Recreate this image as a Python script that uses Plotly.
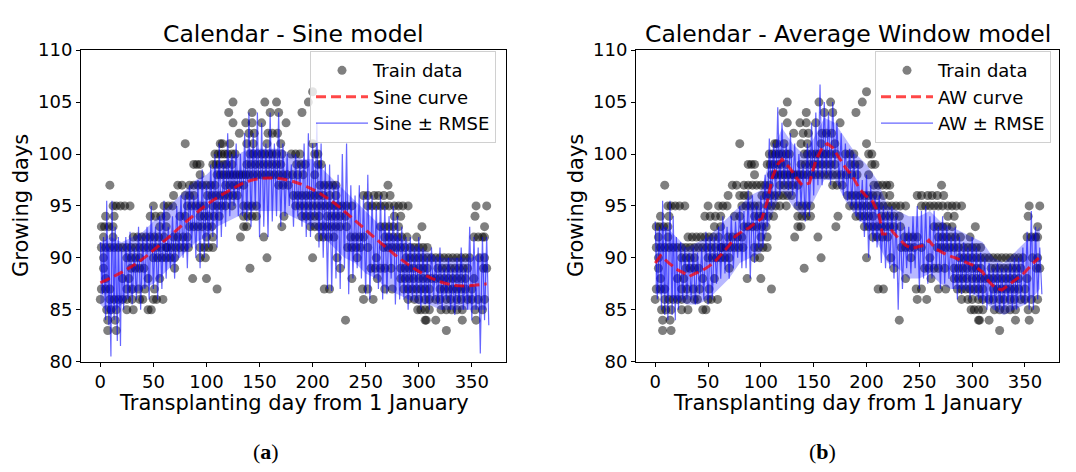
import plotly.graph_objects as go

# ---------------- data ----------------
# Train data: integer growing-day levels and the transplanting days observed at each level
level_values = [106, 105, 104, 103, 102, 101, 100, 99, 98, 97, 96, 95, 94, 93, 92, 91, 90, 89, 88, 87, 86, 85, 84, 83]
level_days = [
    [200],
    [125, 155, 166, 196],
    [121, 143, 160, 168, 190],
    [125, 137, 143, 152, 175],
    [131, 140, 145, 158, 162, 167],
    [80, 113, 115, 122, 138, 144, 157, 170, 200],
    [108, 111, 114, 117, 120, 124, 127, 141, 144, 148, 152, 155, 159, 162, 166, 171, 180, 184, 188, 202, 205],
    [88, 91, 94, 106, 109, 112, 116, 119, 124, 138, 142, 146, 150, 154, 158, 162, 166, 170, 185, 189, 193, 205, 208],
    [94, 110, 113, 116, 119, 122, 125, 128, 131, 134, 137, 140, 144, 148, 152, 156, 160, 164, 168, 172, 176, 181, 186, 191, 202],
    [9, 73, 77, 84, 88, 92, 96, 100, 104, 108, 118, 122, 126, 130, 135, 168, 172, 177, 207, 211, 215, 219, 222, 271],
    [69, 80, 84, 88, 101, 105, 109, 113, 117, 121, 125, 129, 182, 186, 190, 194, 198, 202, 206, 210, 216, 222, 248, 252, 258, 262, 267, 273],
    [12, 15, 19, 23, 28, 50, 60, 64, 68, 82, 86, 90, 94, 98, 106, 110, 114, 118, 124, 135, 139, 143, 147, 184, 188, 192, 196, 200, 204,
     208, 212, 216, 220, 224, 228, 232, 237, 252, 256, 260, 264, 268, 272, 277, 281, 285, 290, 354, 364],
    [5, 13, 47, 52, 57, 62, 75, 80, 94, 98, 102, 107, 112, 135, 139, 143, 147, 173, 190, 194, 198, 202, 206, 214, 218, 222, 226, 231, 277, 283, 353],
    [1, 4, 8, 12, 56, 62, 84, 88, 92, 96, 101, 105, 135, 138, 171, 198, 202, 206, 210, 214, 218, 222, 226, 232, 264, 268, 272, 276, 281, 303, 362],
    [3, 12, 31, 35, 39, 43, 47, 51, 55, 60, 69, 73, 78, 82, 100, 106, 132, 154, 206, 210, 215, 220, 236, 240, 244, 248, 268, 272, 276, 280,
     284, 289, 298, 352, 356, 360, 362],
    [1, 5, 9, 13, 17, 21, 25, 29, 33, 37, 41, 45, 49, 53, 57, 62, 63, 67, 71, 75, 79, 83, 94, 98, 102, 106, 233, 237, 241, 245, 252, 267, 271,
     275, 279, 283, 287, 292, 296, 300, 304, 308],
    [3, 25, 29, 33, 37, 50, 54, 58, 62, 66, 70, 94, 99, 157, 200, 223, 242, 260, 288, 292, 296, 300, 304, 308, 312, 316, 320, 324, 328, 332,
     336, 340, 344, 348, 357, 362],
    [3, 29, 33, 37, 41, 70, 141, 226, 255, 259, 264, 268, 274, 283, 287, 291, 295, 300, 304, 308, 318, 322, 326, 330, 334, 338, 342, 346, 361, 364],
    [5, 21, 27, 45, 56, 87, 100, 237, 261, 283, 287, 291, 295, 300, 304, 308, 312, 316, 320, 324, 328, 332, 336, 340, 344, 352],
    [1, 5, 9, 25, 30, 36, 42, 51, 110, 211, 216, 247, 252, 268, 275, 286, 290, 294, 298, 302, 306, 310, 320, 324, 328, 332, 336, 340, 344, 350],
    [0, 9, 13, 17, 21, 25, 30, 37, 40, 50, 53, 59, 248, 257, 290, 296, 300, 306, 310, 316, 320, 326, 330, 336, 340, 346, 350, 356, 362],
    [6, 10, 15, 25, 31, 45, 48, 299, 302, 306, 310, 321, 326, 331, 336, 341, 353, 360],
    [7, 14, 231, 306, 307, 316, 341, 354],
    [7, 15, 326],
]

# Sine model curve
sine_x = [0, 20, 40, 60, 80, 100, 120, 140, 160, 180, 200, 220, 240, 260, 280, 300, 320, 340, 364]
sine_y = [87.6, 88.6, 89.9, 91.6, 93.4, 95.1, 96.4, 97.4, 97.7, 97.4, 96.6, 95.3, 93.6, 91.8, 90.1, 88.7, 87.7, 87.3, 87.5]

# Sine +- RMSE: shaded band (every 10 days)
fill_x = [0, 10, 20, 30, 40, 50, 60, 70, 80, 90, 100, 110, 120, 130, 140, 150, 160, 170, 180, 190, 200, 210, 220, 230,
          240, 250, 260, 270, 280, 290, 300, 310, 320, 330, 340, 350, 360, 364]
sine_fill_lo = [85.5, 84.5, 85.5, 86.5, 87, 87.5, 88.5, 89.5, 90.5, 91.5, 92, 93, 93.5, 94, 94.5, 94.5, 94.5, 94.5, 94, 93.5,
                93, 92, 91, 90, 89.5, 88.5, 88, 87, 86.5, 86, 85.5, 85.5, 85, 85, 85, 85, 85, 85]
sine_fill_hi = [91.5, 92, 91.5, 92, 92.5, 93.5, 94.5, 95.5, 96.5, 97.5, 98, 99, 99.5, 100, 100.5, 100.5, 100.5, 100.5, 100,
                99.5, 99.5, 98.5, 97.5, 96.5, 95.5, 94.5, 93.5, 92.5, 92, 91.5, 91, 90.5, 90, 90, 90, 90, 90.5, 90.5]

# Sine +- RMSE: spiky line extremes
sine_band_x = [0, 3, 6, 8, 11, 14, 17, 20, 24, 28, 32, 36, 40, 44, 48, 52, 56, 60, 64, 68, 72, 76, 80, 84, 88, 92, 96, 100,
               104, 108, 112, 116, 120, 124, 128, 132, 136, 140, 144, 148, 152, 156, 160, 164, 168, 172, 176, 180, 184, 188,
               192, 196, 200, 204, 208, 212, 216, 220, 224, 228, 232, 236, 240, 244, 248, 252, 256, 260, 264, 268, 272, 276,
               280, 284, 288, 292, 296, 300, 304, 308, 312, 316, 320, 324, 328, 332, 336, 340, 344, 348, 352, 356, 360, 364]
sine_band_hi = [91.5, 92, 95.5, 91, 95.5, 93, 92, 91, 92, 92.5, 91, 93, 92, 93, 95, 93, 94, 95.5, 93, 94, 95, 96, 96, 97, 96, 97.5,
                98.5, 97, 99, 100, 101, 99, 102, 100, 101, 100, 102, 104, 102, 104, 103, 101, 104, 101, 104, 101, 100, 99, 100, 99,
                101, 102, 101, 103, 101, 99, 99, 97, 98, 100, 101, 97, 96, 97, 96, 98, 96, 95, 96, 95, 94, 95, 94, 93, 92, 92,
                91, 92, 91, 90, 91, 90, 91, 89, 90, 89, 90, 91, 89, 93, 92, 91, 92, 92]
sine_band_lo = [86.5, 84, 83.5, 80.5, 84, 82, 81.5, 85, 86, 85.5, 86, 85, 87, 86, 87, 86, 87, 88, 89, 88, 90, 90, 89, 91, 90, 89,
                90, 91, 92, 91, 92, 93, 94, 95, 94, 94, 93.5, 93, 95, 92, 93, 92, 93.5, 94, 93, 94, 95, 93, 94, 93,
                92, 92, 94, 91, 90, 87, 86.8, 88, 87, 89, 86.5, 88, 89, 88, 86.5, 86, 88, 87, 86, 86.5, 88, 85.5,
                86, 86, 85, 86, 86, 85, 85.5, 85, 86, 85.5, 85, 86, 85, 84.5, 85.5, 85, 85, 84, 85, 80.8, 84, 83.5]

# Average Window model curve
aw_x = [0, 5, 13, 20, 26, 32, 38, 45, 51, 57, 64, 70, 76, 83, 89, 95, 101, 106, 111, 116, 120, 127, 133, 139, 146, 152, 158, 163,
        168, 174, 180, 187, 193, 199, 206, 212, 215, 220, 224, 231, 237, 243, 250, 254, 259, 265, 272, 278, 284, 291, 297, 303,
        310, 316, 322, 328, 335, 341, 347, 352, 357, 363]
aw_y = [89.5, 90.2, 89.5, 88.9, 88.6, 88.2, 88.5, 88.8, 89.2, 89.7, 90.5, 91.2, 92.1, 92.6, 92.9, 93.4, 93.8, 95.4, 97.8, 99.0,
        99.5, 98.7, 97.8, 97.0, 97.2, 99.4, 100.6, 101.0, 100.6, 99.7, 98.7, 97.8, 96.7, 96.0, 95.4, 94.1, 92.3, 92.3, 92.6,
        91.8, 91.2, 90.9, 91.1, 91.2, 91.7, 90.9, 90.5, 90.2, 90.0, 89.7, 89.5, 89.2, 88.6, 87.7, 87.1, 86.9, 87.4, 87.9, 88.3,
        88.9, 89.4, 90.0]

# AW +- RMSE: shaded band (every 10 days, same days as fill_x)
aw_fill_lo = [86.5, 86.5, 86, 85.5, 85.5, 86, 87, 88, 89.5, 90, 90.5, 94, 96.5, 95, 94, 95.5, 97.5, 97.5, 95.5, 94, 93,
              91.5, 89.5, 89, 88, 88, 88.5, 87.5, 87, 87, 86.5, 86, 85, 84.5, 85, 85.5, 86.5, 87]
aw_fill_hi = [92.5, 93, 92, 91, 91.5, 92, 93, 94, 95, 96, 96.5, 100, 102.5, 101, 100, 101.5, 103.5, 103, 101.5, 100, 99,
              97.5, 95, 94.5, 94, 94, 94.5, 93.5, 93, 92.5, 92, 91.5, 90, 89.5, 90.5, 91.5, 92.5, 93]

# AW +- RMSE: spiky line extremes
aw_band_x = [0, 4, 7, 10, 14, 17, 20, 24, 28, 32, 36, 40, 44, 48, 52, 56, 60, 64, 68, 72, 76, 80, 84, 88, 92, 96, 100,
             104, 108, 112, 116, 120, 124, 128, 132, 136, 140, 144, 148, 152, 156, 160, 164, 168, 172, 176, 180, 184, 188,
             192, 196, 200, 204, 208, 212, 216, 220, 224, 228, 232, 236, 240, 244, 248, 252, 256, 260, 264, 268, 272, 276,
             280, 284, 288, 292, 296, 300, 304, 308, 312, 316, 320, 324, 328, 332, 336, 340, 344, 348, 352, 356, 360, 364]
aw_band_hi = [93.5, 93, 95.5, 93, 95.5, 94, 92, 91.5, 91, 90.5, 91, 90.5, 91, 92.5, 92, 92, 93, 94, 93, 94, 93.5, 95, 94.5,
              96.5, 96, 95, 96, 98, 101.5, 101, 104.5, 103, 101, 102, 101, 100, 99, 101, 103, 104, 106.7, 105, 104, 105,
              103, 102, 101, 100.5, 100, 99, 97.5, 98, 97, 96, 96, 95, 94.5, 95, 94, 93.5, 93, 93, 94, 95, 94.5, 95, 94,
              94.5, 93, 94, 93, 92, 93, 92, 91.5, 91, 92, 91, 90.5, 90, 89.5, 89, 89.5, 89, 89, 89.5, 90, 90, 91, 92.5,
              94.5, 93, 91]
aw_band_lo = [86, 85, 84.5, 84, 84.5, 84, 85, 86, 86, 86, 85.5, 86.5, 86, 85.5, 86, 87.5, 88, 88.5, 88, 89, 90, 89, 89,
              88, 89.5, 91, 91, 93, 95, 95.5, 96, 97, 96.5, 96, 95, 95, 93.5, 94, 96, 97, 97, 98, 97, 98.5, 97, 96, 95.5,
              95, 94, 93.5, 92, 90, 91.5, 91, 89.5, 89, 89, 88, 85, 87, 89, 88.5, 89, 87, 88, 87.5, 88, 89, 87, 87.5, 88,
              87, 86, 86.5, 87, 86, 86.5, 86, 85.5, 85, 85.5, 85, 85, 85, 85.5, 85, 85, 86, 85.5, 85, 85, 86, 86.5]

x_ticks = [0, 50, 100, 150, 200, 250, 300, 350]
y_ticks = [80, 85, 90, 95, 100, 105, 110]

# ---------------- figure ----------------
train_x = [d for days in level_days for d in days]
train_y = [v for v, days in zip(level_values, level_days) for _ in days]


def zigzag(xs, his, los):
    """Interleave the read extremes into one spiky line: top at each day, bottom two days later."""
    zx, zy = [], []
    for xv, h, l in zip(xs, his, los):
        zx += [xv, xv + 2]
        zy += [h, l]
    return zx, zy


W, H = 1076, 472
FONT = "DejaVu Sans"
SCATTER_COLOR = "rgba(0,0,0,0.5)"
RED = "rgba(255,0,0,0.72)"
BLUE_LINE = "rgba(0,0,255,0.6)"
BLUE_FILL = "rgba(0,0,255,0.28)"

fig = go.Figure()

panels = [
    dict(xa="x", ya="y", legend="legend", cx=sine_x, cy=sine_y, cname="Sine curve", cshape="spline",
         flo=sine_fill_lo, fhi=sine_fill_hi,
         bx=sine_band_x, blo=sine_band_lo, bhi=sine_band_hi, bname="Sine \u00b1 RMSE"),
    dict(xa="x2", ya="y2", legend="legend2", cx=aw_x, cy=aw_y, cname="AW curve", cshape="linear",
         flo=aw_fill_lo, fhi=aw_fill_hi,
         bx=aw_band_x, blo=aw_band_lo, bhi=aw_band_hi, bname="AW \u00b1 RMSE"),
]

for p in panels:
    fig.add_trace(go.Scatter(
        x=train_x, y=train_y, mode="markers", name="Train data",
        marker=dict(size=9, color=SCATTER_COLOR, line=dict(width=0)),
        xaxis=p["xa"], yaxis=p["ya"], legend=p["legend"], legendrank=1))
    fig.add_trace(go.Scatter(
        x=fill_x, y=p["flo"], mode="lines", line=dict(width=0, color=BLUE_FILL),
        showlegend=False, hoverinfo="skip", xaxis=p["xa"], yaxis=p["ya"]))
    fig.add_trace(go.Scatter(
        x=fill_x, y=p["fhi"], mode="lines", line=dict(width=0, color=BLUE_FILL),
        fill="tonexty", fillcolor=BLUE_FILL,
        showlegend=False, hoverinfo="skip", xaxis=p["xa"], yaxis=p["ya"]))
    zx, zy = zigzag(p["bx"], p["bhi"], p["blo"])
    fig.add_trace(go.Scatter(
        x=zx, y=zy, mode="lines", line=dict(color=BLUE_LINE, width=1.2),
        showlegend=False, hoverinfo="skip", xaxis=p["xa"], yaxis=p["ya"]))
    fig.add_trace(go.Scatter(
        x=p["cx"], y=p["cy"], mode="lines", name=p["cname"], line_shape=p["cshape"],
        line=dict(color=RED, width=3, dash="10px,5px"),
        xaxis=p["xa"], yaxis=p["ya"], legend=p["legend"], legendrank=2))
    # legend entry for the band (drawn as a thin blue line, as in the reference)
    fig.add_trace(go.Scatter(
        x=[None], y=[None], mode="lines", name=p["bname"],
        line=dict(color=BLUE_LINE, width=1.2),
        xaxis=p["xa"], yaxis=p["ya"], legend=p["legend"], legendrank=3))

# pixel geometry
plot_top, plot_bot = 41, 367
left_l, left_r = 81, 506
right_l, right_r = 636, 1059
ydom = [1 - plot_bot / H, 1 - plot_top / H]

axis_common = dict(showline=True, linecolor="black", linewidth=1, mirror=True,
                   ticks="outside", ticklen=4, tickwidth=1, tickcolor="black",
                   showgrid=False, zeroline=False,
                   tickfont=dict(family=FONT, size=18, color="black"))

legend_common = dict(yanchor="top", xanchor="right", traceorder="normal",
                     bgcolor="rgba(255,255,255,0.8)", bordercolor="#d0d0d0", borderwidth=1,
                     font=dict(family=FONT, size=18, color="black"), tracegroupgap=0, itemwidth=52)

fig.update_layout(
    width=W, height=H,
    margin=dict(l=0, r=0, t=0, b=0),
    paper_bgcolor="white", plot_bgcolor="white",
    font=dict(family=FONT, color="black"),
    showlegend=True,
    xaxis=dict(domain=[left_l / W, left_r / W], range=[-18.2, 382.2], tickvals=x_ticks, anchor="y", **axis_common),
    yaxis=dict(domain=ydom, range=[80, 110], tickvals=y_ticks, anchor="x", **axis_common),
    xaxis2=dict(domain=[right_l / W, right_r / W], range=[-18.2, 382.2], tickvals=x_ticks, anchor="y2", **axis_common),
    yaxis2=dict(domain=ydom, range=[80, 110], tickvals=y_ticks, anchor="x2", **axis_common),
    legend=dict(x=496 / W, y=1 - 42 / H, **legend_common),
    legend2=dict(x=1051 / W, y=1 - 42 / H, **legend_common),
)

annotations = []
for (l, r, title, ytitle_x, cap_x, cap) in [
    (left_l, left_r, "Calendar - Sine model", 21, 266, "a"),
    (right_l, right_r, "Calendar - Average Window model", 576, 822, "b"),
]:
    cx = (l + r) / 2
    annotations.append(dict(text=title, x=cx / W, y=1 - 24 / H, xref="paper", yref="paper",
                            xanchor="center", yanchor="middle", showarrow=False,
                            font=dict(family=FONT, size=23.5, color="black")))
    annotations.append(dict(text="Transplanting day from 1 January", x=cx / W, y=1 - 410 / H,
                            xref="paper", yref="paper", xanchor="center", yanchor="middle",
                            showarrow=False, font=dict(family=FONT, size=21, color="black")))
    annotations.append(dict(text="Growing days", x=ytitle_x / W, y=1 - 204 / H, xref="paper", yref="paper",
                            xanchor="center", yanchor="middle", textangle=-90, showarrow=False,
                            font=dict(family=FONT, size=21, color="black")))
    annotations.append(dict(text="(<b>" + cap + "</b>)", x=cap_x / W, y=1 - 461 / H, xref="paper", yref="paper",
                            xanchor="center", yanchor="middle", showarrow=False,
                            font=dict(family="Liberation Serif", size=22, color="black")))
fig.update_layout(annotations=annotations)

fig.write_html("out.html")
